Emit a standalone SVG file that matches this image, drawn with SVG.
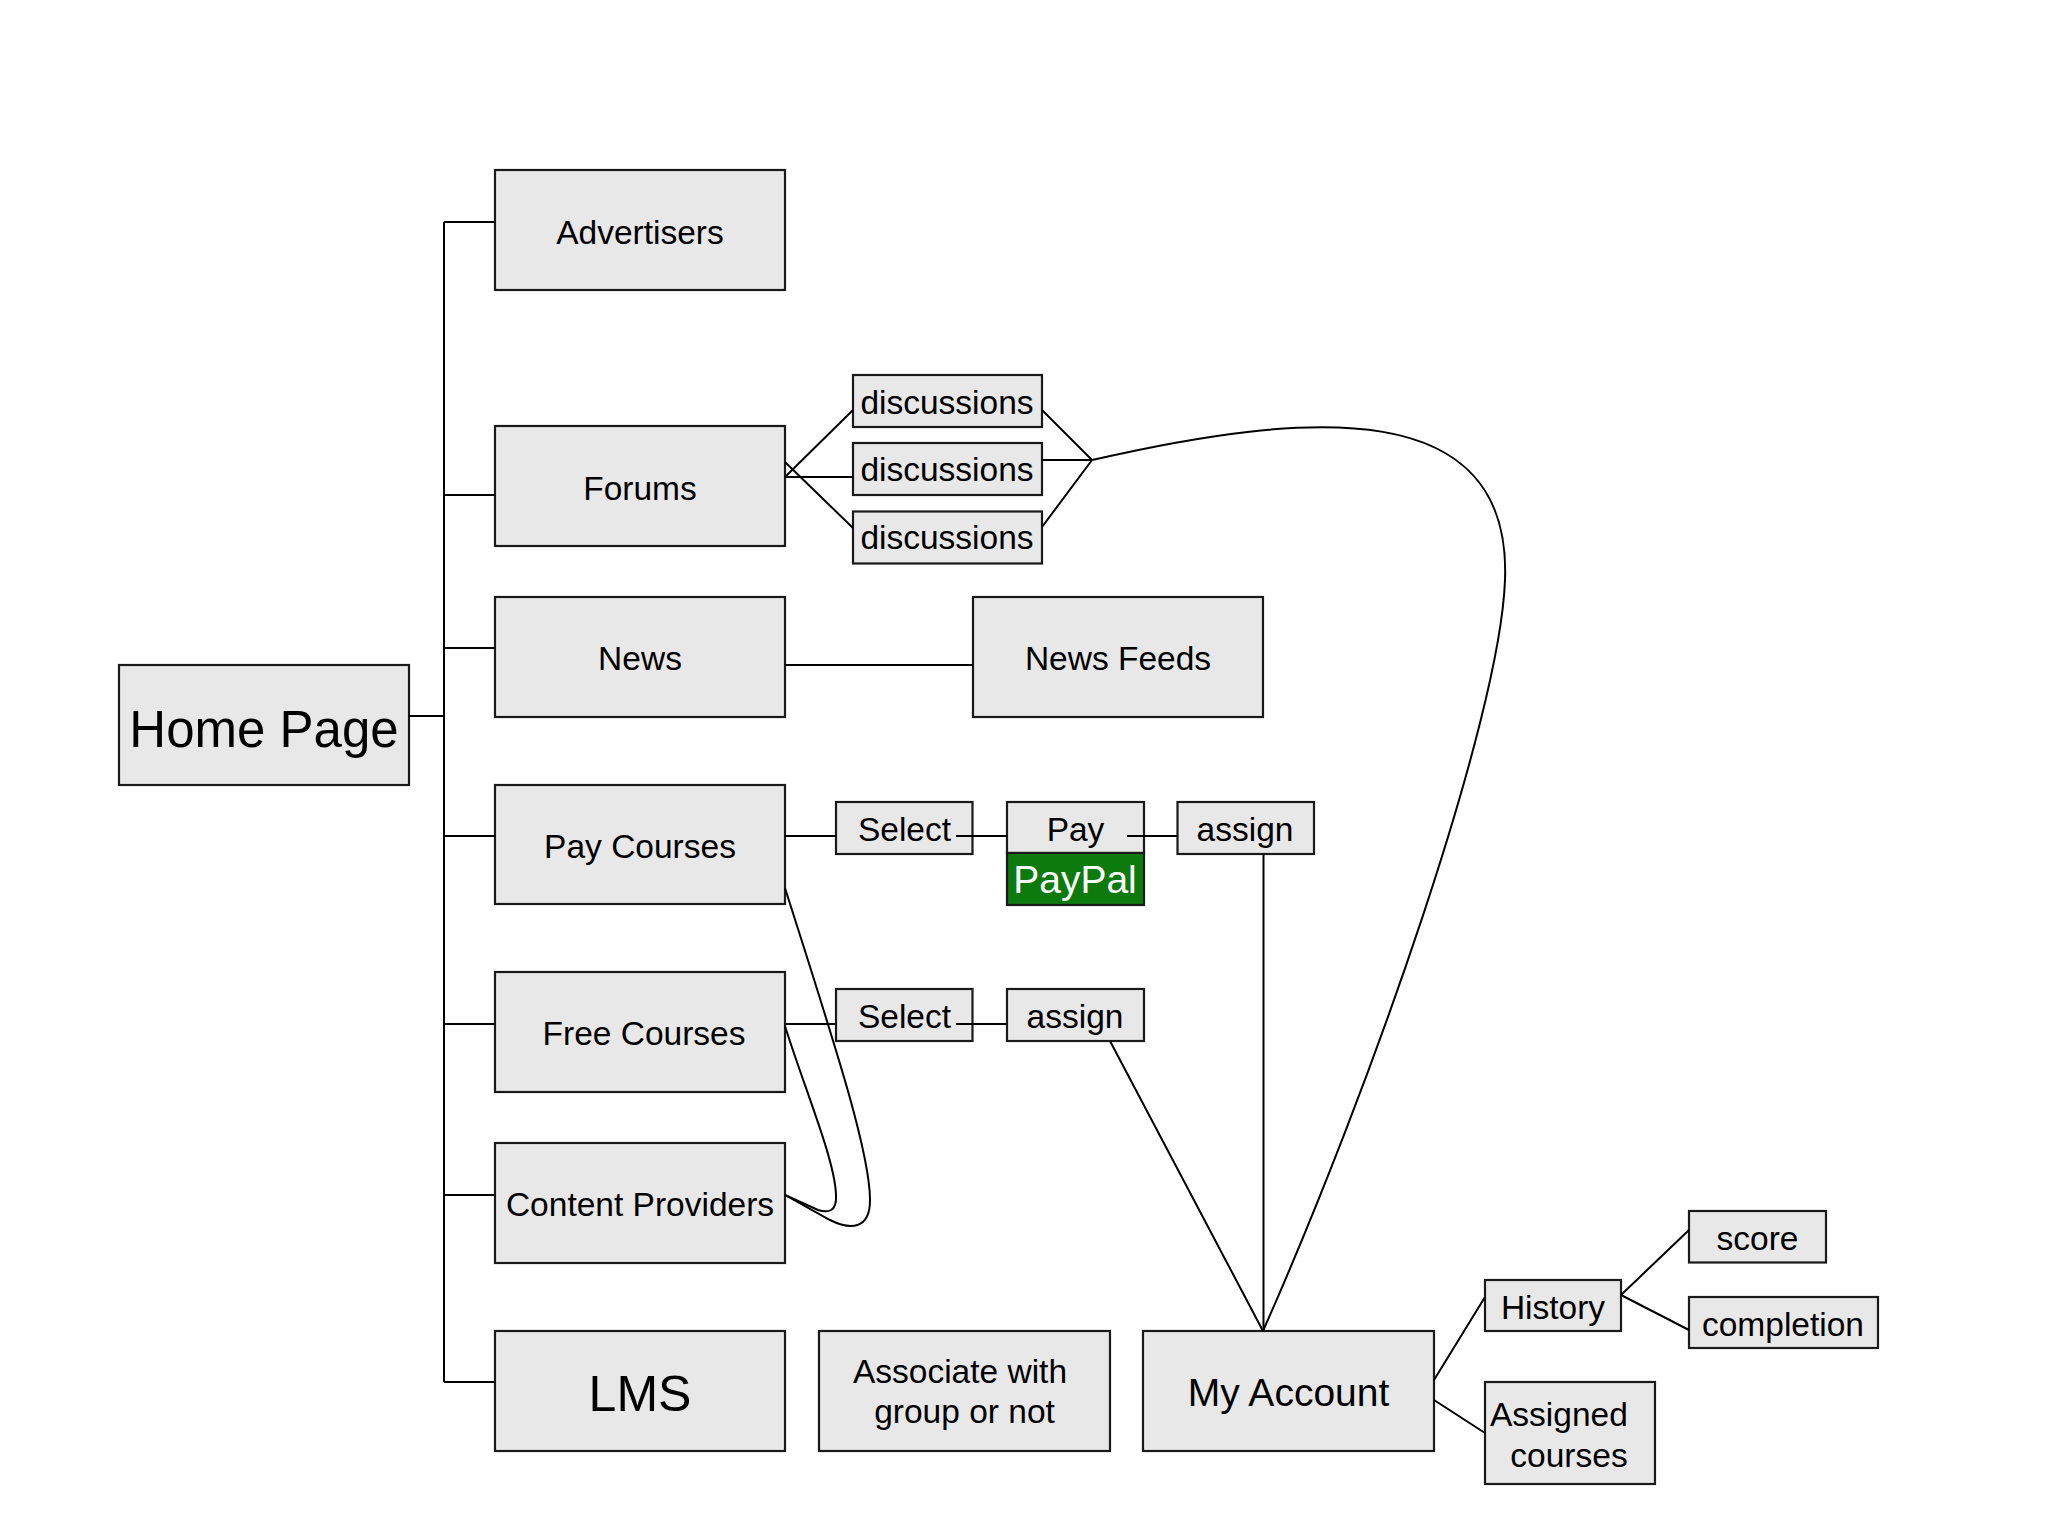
<svg xmlns="http://www.w3.org/2000/svg" width="2048" height="1536" viewBox="0 0 2048 1536">
<style>
.box{fill:#e8e8e8;stroke:#1a1a1a;stroke-width:2.2}
.pp{fill:#0c7a0c;stroke:#1a1a1a;stroke-width:2.2}
.t{font-family:"Liberation Sans",Arial,sans-serif;font-size:33.5px;fill:#000;text-anchor:middle}
.big{font-size:51px}
.mid{font-size:39px}
.w{fill:#fff}
.c{fill:none;stroke:#000;stroke-width:2}
</style>
<rect width="2048" height="1536" fill="#fff"/>
<g id="home"><rect class="box" x="119" y="665" width="290" height="120"/><text class="t big" x="264" y="747">Home Page</text></g>
<g id="advertisers"><rect class="box" x="495" y="170" width="290" height="120"/><text class="t" x="640" y="244">Advertisers</text></g>
<g id="forums"><rect class="box" x="495" y="426" width="290" height="120"/><text class="t" x="640" y="500">Forums</text></g>
<g id="news"><rect class="box" x="495" y="597" width="290" height="120"/><text class="t" x="640" y="670">News</text></g>
<g id="paycourses"><rect class="box" x="495" y="785" width="290" height="119"/><text class="t" x="640" y="858">Pay Courses</text></g>
<g id="freecourses"><rect class="box" x="495" y="972" width="290" height="120"/><text class="t" x="644" y="1045">Free Courses</text></g>
<g id="contentproviders"><rect class="box" x="495" y="1143" width="290" height="120"/><text class="t" x="640" y="1216">Content Providers</text></g>
<g id="lms"><rect class="box" x="495" y="1331" width="290" height="120"/><text class="t" style="font-size:50px" x="640" y="1411">LMS</text></g>
<g id="disc1"><rect class="box" x="853" y="375" width="189" height="52"/><text class="t" x="947" y="414">discussions</text></g>
<g id="disc2"><rect class="box" x="853" y="443" width="189" height="52"/><text class="t" x="947" y="481">discussions</text></g>
<g id="disc3"><rect class="box" x="853" y="511.5" width="189" height="52"/><text class="t" x="947" y="549">discussions</text></g>
<g id="newsfeeds"><rect class="box" x="973" y="597" width="290" height="120"/><text class="t" x="1118" y="670">News Feeds</text></g>
<g id="select1"><rect class="box" x="836" y="802" width="136.5" height="52"/><text class="t" x="904.5" y="841">Select</text></g>
<g id="pay"><rect class="box" x="1007" y="802" width="137" height="51"/><text class="t" x="1075.5" y="841">Pay</text></g>
<g id="paypal"><rect class="pp" x="1007" y="853" width="137" height="52"/><text class="t mid w" x="1075" y="893">PayPal</text></g>
<g id="assign1"><rect class="box" x="1177.5" y="802" width="136.5" height="52"/><text class="t" x="1245" y="841">assign</text></g>
<g id="select2"><rect class="box" x="836" y="989" width="136.5" height="52"/><text class="t" x="904.5" y="1028">Select</text></g>
<g id="assign2"><rect class="box" x="1007" y="989" width="137" height="52"/><text class="t" x="1075" y="1028">assign</text></g>
<g id="associate"><rect class="box" x="819" y="1331" width="291" height="120"/><text class="t" x="960" y="1383">Associate with</text><text class="t" x="964.5" y="1423">group or not</text></g>
<g id="myaccount"><rect class="box" x="1143" y="1331" width="291" height="120"/><text class="t mid" x="1288.5" y="1406">My Account</text></g>
<g id="history"><rect class="box" x="1485" y="1280" width="136" height="51"/><text class="t" x="1553" y="1319">History</text></g>
<g id="score"><rect class="box" x="1689" y="1211" width="137" height="51.5"/><text class="t" x="1757.5" y="1250">score</text></g>
<g id="completion"><rect class="box" x="1689" y="1297" width="189" height="51"/><text class="t" x="1783" y="1336">completion</text></g>
<g id="assigned"><rect class="box" x="1485" y="1382" width="170" height="102"/><text class="t" style="text-anchor:start" x="1490" y="1426">Assigned</text><text class="t" x="1569" y="1467">courses</text></g>
<g id="connectors" class="c">
<path d="M409,716 H444 M444,222 V1382 M444,222 H495 M444,495 H495 M444,648 H495 M444,836 H495 M444,1024 H495 M444,1195 H495 M444,1382 H495"/>
<path d="M785,477 L853,410 M785,477 H853 M785,462 L853,528"/>
<path d="M1042,410 L1092,460 M1042,460 H1092 M1042,527 L1092,460"/>
<path d="M1092,460 C1310,410 1512,395 1505,580 C1500,720 1370,1090 1263,1331"/>
<path d="M785,665 H973"/>
<path d="M785,836 H836 M956,836 H1007 M1127,836 H1177.5 M1263.5,854 V1331"/>
<path d="M785,1024 H836 M956,1024 H1007 M1110,1041 L1263,1331"/>
<path d="M1434,1380 L1485,1297 M1434,1400 L1485,1433 M1621,1295 L1689,1230 M1621,1295 L1689,1330"/>
<path d="M785,888 C830,1030 870,1150 870,1200 C870,1230 850,1230 830,1220 L785,1195"/>
<path d="M785,1026 C805,1090 835,1160 836,1195 C837,1212 828,1213 818,1210 L785,1195"/>
</g>
</svg>
